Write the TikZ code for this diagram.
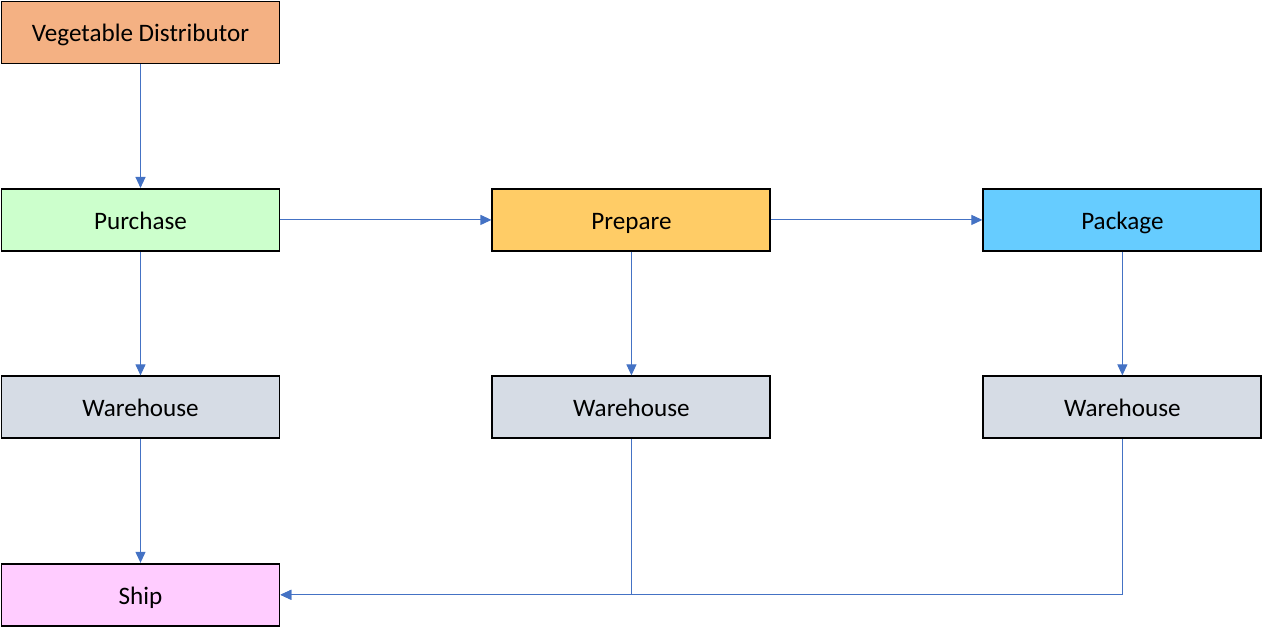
\documentclass[tikz,border=0pt]{standalone}
\usepackage{fontspec}
\setmainfont{Carlito}
\usepackage{xcolor}
\usetikzlibrary{arrows.meta,positioning}

\definecolor{vegorange}{HTML}{F4B183}
\definecolor{buygreen}{HTML}{CCFFCC}
\definecolor{prepyellow}{HTML}{FFCC66}
\definecolor{packblue}{HTML}{66CCFF}
\definecolor{whgray}{HTML}{D6DCE5}
\definecolor{shippink}{HTML}{FFCCFF}
\definecolor{linkblue}{HTML}{4472C4}

\begin{document}
\begin{tikzpicture}[
  every node/.style={font=\fontsize{14.3}{16}\selectfont, align=center},
  box/.style={rectangle, draw, line width=1.1pt, minimum width=5.56cm, minimum height=1.24cm,
    text height=2.2ex, text depth=0ex},
  arrow/.style={-{Triangle[length=2.2mm,width=2mm]}, linkblue, line width=0.6pt}
]
\useasboundingbox (0,0) rectangle (25.26,-12.54);

% SOURCE
\node[box, fill=vegorange] (vendor) at (2.81,-0.65) {Vegetable Distributor};

% PROCESS ROW
\node[box, fill=buygreen, below=2.47cm of vendor] (purchase) {Purchase};
\node[box, fill=prepyellow, right=4.22cm of purchase] (prepare) {Prepare};
\node[box, fill=packblue, right=4.22cm of prepare] (package) {Package};

\draw[arrow] (vendor) -- (purchase);
\draw[arrow] (purchase) -- (prepare);
\draw[arrow] (prepare) -- (package);

% STORAGE
\node[box, fill=whgray, below=2.47cm of purchase] (store_a) {Warehouse};
\node[box, fill=whgray, below=2.47cm of prepare] (store_b) {Warehouse};
\node[box, fill=whgray, below=2.47cm of package] (store_c) {Warehouse};

\draw[arrow] (purchase) -- (store_a);
\draw[arrow] (prepare) -- (store_b);
\draw[arrow] (package) -- (store_c);

% SHIPPING
\node[box, fill=shippink, below=2.47cm of store_a] (ship) {Ship};

\draw[arrow] (store_a) -- (ship);
\draw[arrow] (store_b.south) |- (ship.east);
\draw[arrow] (store_c.south) |- (ship.east);

\end{tikzpicture}
\end{document}
